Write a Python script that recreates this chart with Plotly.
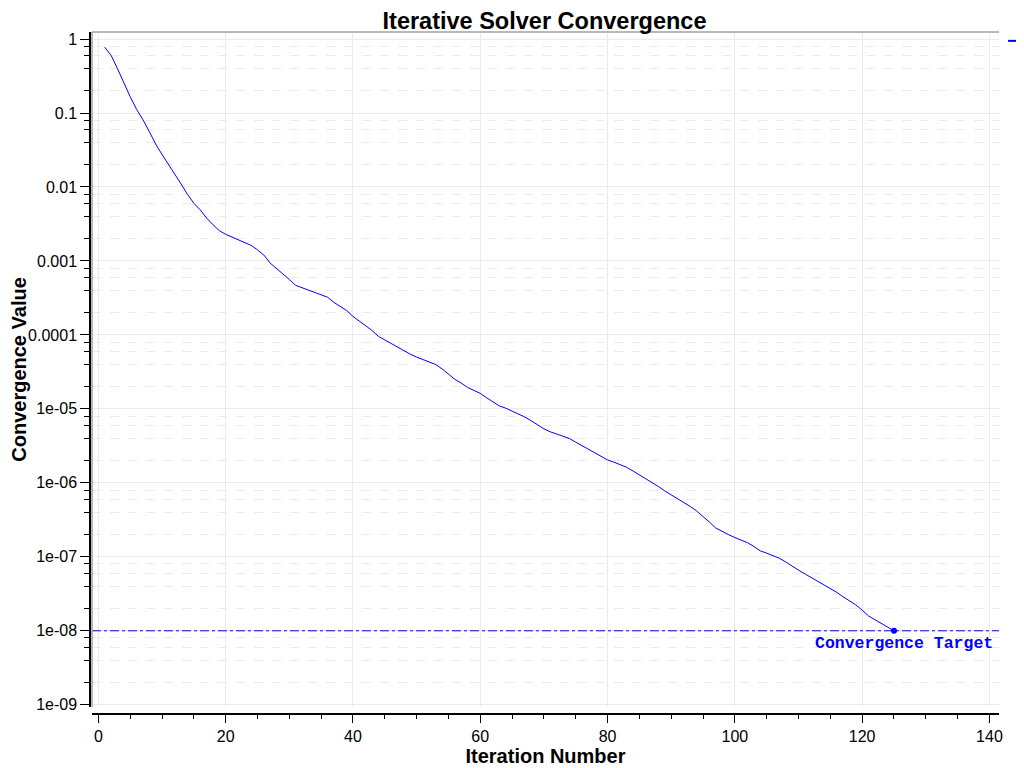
import plotly.graph_objects as go

# iteration index and the residual (as log10 exponents)
iterations = list(range(1, 126))
residual_log10 = [
    -0.11, -0.22, -0.40, -0.60, -0.78, -0.95, -1.09, -1.25, -1.42, -1.56,
    -1.69, -1.83, -1.96, -2.10, -2.22, -2.31, -2.42, -2.51, -2.59, -2.64,
    -2.68, -2.71, -2.75, -2.79, -2.85, -2.92, -3.03, -3.10, -3.17, -3.25,
    -3.33, -3.36, -3.39, -3.42, -3.45, -3.49, -3.56, -3.61, -3.67, -3.75,
    -3.81, -3.87, -3.94, -4.02, -4.07, -4.12, -4.17, -4.22, -4.26, -4.30,
    -4.33, -4.37, -4.40, -4.46, -4.53, -4.60, -4.65, -4.71, -4.75, -4.79,
    -4.85, -4.90, -4.96, -4.99, -5.03, -5.06, -5.11, -5.16, -5.22, -5.27,
    -5.31, -5.34, -5.36, -5.40, -5.45, -5.50, -5.54, -5.60, -5.65, -5.69,
    -5.72, -5.75, -5.79, -5.84, -5.89, -5.94, -5.99, -6.05, -6.11, -6.16,
    -6.21, -6.27, -6.32, -6.38, -6.45, -6.53, -6.61, -6.66, -6.70, -6.74,
    -6.77, -6.81, -6.86, -6.92, -6.95, -6.98, -7.02, -7.07, -7.13, -7.18,
    -7.23, -7.28, -7.32, -7.37, -7.42, -7.48, -7.54, -7.59, -7.65, -7.72,
    -7.80, -7.85, -7.90, -7.94, -8.00,
]
residual = [10 ** e for e in residual_log10]

target = 1e-8
target_iter = 125

y_major = [1, 0.1, 0.01, 0.001, 0.0001, 1e-05, 1e-06, 1e-07, 1e-08, 1e-09]
y_labels = ["1", "0.1", "0.01", "0.001", "0.0001", "1e-05", "1e-06", "1e-07", "1e-08", "1e-09"]
y_minor = [m * d for d in y_major[1:] for m in (2, 4, 6, 8)]

BLUE = "#0000ff"
GRID = "#ebebeb"

fig = go.Figure()

# solver curve
fig.add_trace(go.Scatter(
    x=iterations, y=residual, mode="lines",
    line=dict(color=BLUE, width=1), name="", showlegend=False
))

# final point on the target
fig.add_trace(go.Scatter(
    x=[target_iter], y=[target], mode="markers",
    marker=dict(color=BLUE, size=6), showlegend=False
))

# target line
fig.add_hline(y=target, line=dict(color="#0000dd", width=1, dash="dashdot"))

fig.add_annotation(
    x=1, xref="x domain", y=-8, yref="y",
    xanchor="right", yanchor="top", yshift=-1, xshift=-4,
    text="<b>Convergence Target</b>", showarrow=False,
    font=dict(family="Liberation Mono", size=16.5, color=BLUE)
)

# grey frame on top and left of plot area
fig.add_shape(type="line", xref="x domain", yref="y domain",
              x0=0, x1=1, y0=1, y1=1, line=dict(color="#a0a0a0", width=1.5))
fig.add_shape(type="line", xref="x domain", yref="y domain",
              x0=0, x1=0, y0=0, y1=1, line=dict(color="#a0a0a0", width=1.5))

# small legend mark in the top right
fig.add_shape(type="line", xref="paper", yref="paper",
              x0=1.010, x1=1.019, y0=0.987, y1=0.987,
              line=dict(color=BLUE, width=2))

# page body adds an 8px offset, so the figure is 8px smaller
fig.update_layout(
    title=dict(text="<b>Iterative Solver Convergence</b>", x=0.5, xref="paper",
               y=1 - 13 / 760, yanchor="middle",
               font=dict(family="Liberation Sans", size=23.5, color="black")),
    width=1016, height=760,
    margin=dict(l=82, r=25, t=24, b=54, autoexpand=False),
    plot_bgcolor="white", paper_bgcolor="white",
    font=dict(family="Liberation Sans", size=16, color="black"),
    showlegend=False,
)

fig.update_xaxes(
    title=dict(text="<b>Iteration Number</b>", font=dict(size=20), standoff=4),
    range=[-1, 141.5], domain=[0.0022, 1],
    anchor="free", position=0, automargin=False,
    tick0=0, dtick=20, ticks="outside", ticklen=8, tickcolor="black",
    showline=True, linecolor="black", linewidth=1.5,
    showgrid=True, gridcolor=GRID, gridwidth=1, zeroline=False,
    minor=dict(dtick=5, ticks="outside", ticklen=4, tickcolor="black", showgrid=False),
)

fig.update_yaxes(
    title=dict(text="<b>Convergence Value</b>", font=dict(size=20), standoff=0),
    type="log", range=[-9.03, 0.095], domain=[0.0103, 1],
    anchor="free", position=0, automargin=False,
    tickmode="array", tickvals=y_major, ticktext=y_labels,
    ticks="outside", ticklen=9, tickcolor="black",
    showline=True, linecolor="black", linewidth=1.5,
    showgrid=True, gridcolor=GRID, gridwidth=1, zeroline=False,
    minor=dict(tickmode="array", tickvals=y_minor, ticks="outside", ticklen=5,
               tickcolor="black", showgrid=True, gridcolor=GRID, griddash="dash"),
)

fig.write_html("out.html")
